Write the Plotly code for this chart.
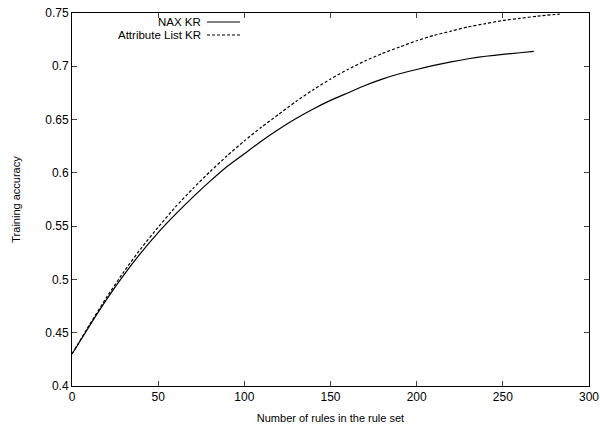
import plotly.graph_objects as go

nax_x = [0, 10, 20, 30, 40, 50, 60, 70, 80, 90, 100, 110, 120, 130, 140, 150, 160, 170, 180,
         190, 200, 210, 220, 230, 240, 250, 260, 268]
nax_y = [0.430, 0.456, 0.481, 0.504, 0.525, 0.544, 0.561, 0.577, 0.592, 0.606, 0.618, 0.630,
         0.641, 0.651, 0.660, 0.668, 0.675, 0.682, 0.688, 0.693, 0.697, 0.7008, 0.7042, 0.7071,
         0.7094, 0.7112, 0.7127, 0.714]

attr_x = [0, 10, 20, 30, 40, 50, 60, 70, 80, 90, 100, 110, 120, 130, 140, 150, 160, 170, 180,
          190, 200, 210, 220, 230, 240, 250, 260, 270, 283]
attr_y = [0.430, 0.457, 0.483, 0.507, 0.529, 0.549, 0.568, 0.585, 0.601, 0.616, 0.630, 0.643,
          0.655, 0.667, 0.678, 0.688, 0.697, 0.705, 0.712, 0.718, 0.724, 0.729, 0.733, 0.737,
          0.740, 0.743, 0.745, 0.747, 0.749]

x_ticks = [0, 50, 100, 150, 200, 250, 300]
y_ticks = [0.4, 0.45, 0.5, 0.55, 0.6, 0.65, 0.7, 0.75]
y_tick_labels = ["0.4", "0.45", "0.5", "0.55", "0.6", "0.65", "0.7", "0.75"]

FONT = "Liberation Sans, Arial, Helvetica, sans-serif"
DASH = "3px,2px"

fig = go.Figure()
fig.add_trace(go.Scatter(x=nax_x, y=nax_y, mode="lines", name="NAX KR",
                         line=dict(color="black", width=1.2, shape="spline", smoothing=0.5)))
fig.add_trace(go.Scatter(x=attr_x, y=attr_y, mode="lines", name="Attribute List KR",
                         line=dict(color="black", width=1.2, dash=DASH, shape="spline", smoothing=0.5)))

# legend (gnuplot style: text then sample)
L, R, T, B = 72, 589, 13, 386
legend_items = [("NAX KR", "solid", 22), ("Attribute List KR", DASH, 35)]
for label, dash, ypx in legend_items:
    yp = 1 - (ypx - T) / (B - T)
    fig.add_annotation(x=(203 - L) / (R - L), y=yp, xref="paper", yref="paper",
                       text=label, showarrow=False, xanchor="right", yanchor="middle",
                       font=dict(family=FONT, size=11.5, color="black"))
    fig.add_shape(type="line", xref="paper", yref="paper",
                  x0=(207 - L) / (R - L), x1=(240 - L) / (R - L), y0=yp, y1=yp,
                  line=dict(color="black", width=1.2, dash=dash))

fig.update_layout(
    width=600, height=425,
    margin=dict(l=L, r=600 - R, t=T, b=425 - B),
    paper_bgcolor="white", plot_bgcolor="white",
    showlegend=False,
    font=dict(family=FONT, size=11, color="black"),
    xaxis=dict(range=[0, 300], tickvals=x_ticks, ticks="inside", ticklen=5,
               showline=True, linecolor="black", linewidth=1, mirror="ticks",
               showgrid=False, zeroline=False, automargin=False,
               title=dict(text="Number of rules in the rule set", font=dict(size=11), standoff=10),
               tickfont=dict(size=12)),
    yaxis=dict(range=[0.4, 0.75], tickvals=y_ticks, ticktext=y_tick_labels, ticks="inside", ticklen=5,
               showline=True, linecolor="black", linewidth=1, mirror="ticks",
               showgrid=False, zeroline=False, automargin=False,
               title=dict(text="Training accuracy", font=dict(size=11), standoff=22),
               tickfont=dict(size=12)),
)

fig.write_html("out.html", config={"displayModeBar": False},
               post_script="document.body.style.margin='0';document.body.style.overflow='hidden';")
